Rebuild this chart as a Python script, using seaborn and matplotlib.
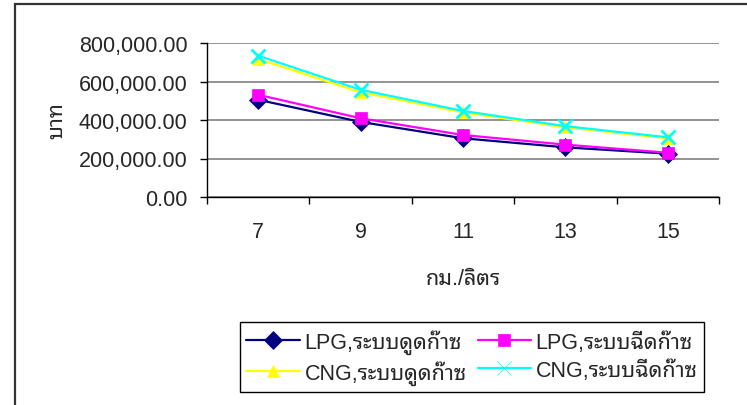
import matplotlib
matplotlib.use('Agg')
import matplotlib.pyplot as plt
import matplotlib.ticker as mticker
from matplotlib.patches import Rectangle
import pandas as pd
import seaborn as sns

# km per litre (categories)
km_per_litre = ['7', '9', '11', '13', '15']

series_names = ['LPG,ระบบดูดก๊าซ', 'LPG,ระบบฉีดก๊าซ', 'CNG,ระบบดูดก๊าซ', 'CNG,ระบบฉีดก๊าซ']
lpg_dud = [505000, 390000, 305000, 258000, 225000]
lpg_chid = [531000, 409000, 322000, 272000, 230000]
cng_dud = [717000, 544000, 440000, 362000, 305000]
cng_chid = [734000, 557000, 447000, 368000, 310000]

colors = {series_names[0]: '#000080', series_names[1]: '#FF00FF',
          series_names[2]: '#FFFF00', series_names[3]: '#00FFFF'}
markers = {series_names[0]: 'D', series_names[1]: 's',
           series_names[2]: '^', series_names[3]: 'X'}

rows = []
for name, vals in zip(series_names, [lpg_dud, lpg_chid, cng_dud, cng_chid]):
    for i, v in enumerate(vals):
        rows.append({'pos': i, 'baht': v, 'series': name})
df = pd.DataFrame(rows)

sns.set_style('white')
plt.rcParams['font.family'] = ['Liberation Sans', 'Noto Sans Thai Looped']
fs = 15.5

fig = plt.figure(figsize=(7.47, 4.06), dpi=100)
ax = fig.add_axes([207 / 747, 1 - 198 / 406, 512 / 747, 154 / 406])
ax.set_facecolor('none')

sns.lineplot(data=df, x='pos', y='baht', hue='series', style='series',
             palette=colors, markers=markers, dashes=False, linewidth=1.6,
             markersize=9, ax=ax, legend='full')

handles, labels = ax.get_legend_handles_labels()


def fix_marker(line):
    c = line.get_color()
    line.set_markeredgecolor(c)
    line.set_markerfacecolor(c)
    if line.get_marker() == 'X':
        line.set_marker('x')
        line.set_markeredgewidth(2)
        line.set_markersize(10)
    else:
        line.set_markeredgewidth(0.5)


for line in list(ax.lines) + list(handles):
    fix_marker(line)

ax.set_xlim(-0.5, 4.5)
ax.set_ylim(0, 800000)
ax.set_xticks(range(len(km_per_litre)))
ax.set_xticklabels(km_per_litre, fontsize=fs)
ax.set_xticks([i - 0.5 for i in range(len(km_per_litre) + 1)], minor=True)
ax.tick_params(axis='x', which='major', length=0, pad=17)
ax.tick_params(axis='x', which='minor', length=5, width=1, color='black', direction='out', bottom=True)
ax.set_yticks([0, 200000, 400000, 600000, 800000])
ax.yaxis.set_major_formatter(mticker.FuncFormatter(lambda v, p: f'{v:,.2f}'))
ax.tick_params(axis='y', length=5, width=1, color='black', direction='out', left=True, pad=9, labelsize=fs)

ax.grid(axis='y', color='#808080', linewidth=1.2)
ax.set_axisbelow(True)
for s in ['top', 'right']:
    ax.spines[s].set_visible(False)
ax.spines['left'].set_color('black')
ax.spines['left'].set_linewidth(1)
ax.spines['bottom'].set_color('black')
ax.spines['bottom'].set_linewidth(1)

ax.set_xlabel('กม./ลิตร', fontsize=fs, labelpad=19)
ax.set_ylabel('บาท', fontsize=fs, labelpad=8)

order = [0, 2, 1, 3]
ax.legend([handles[i] for i in order], [labels[i] for i in order],
          loc='center', bbox_to_anchor=(472 / 747, 1 - 358 / 406), bbox_transform=fig.transFigure,
          ncol=2, fontsize=fs, frameon=True, fancybox=False, edgecolor='black',
          handlelength=2.5, columnspacing=0.5, handletextpad=0.2, borderpad=0.3,
          labelspacing=0.3, framealpha=1)
ax.get_legend().get_frame().set_linewidth(1)

fig.patches.append(Rectangle((15 / 747, -0.02), 0.99, 1 - 5 / 406 + 0.02, transform=fig.transFigure,
                             fill=False, edgecolor='#333333', linewidth=1.6))

fig.savefig('out.png', dpi=100)
